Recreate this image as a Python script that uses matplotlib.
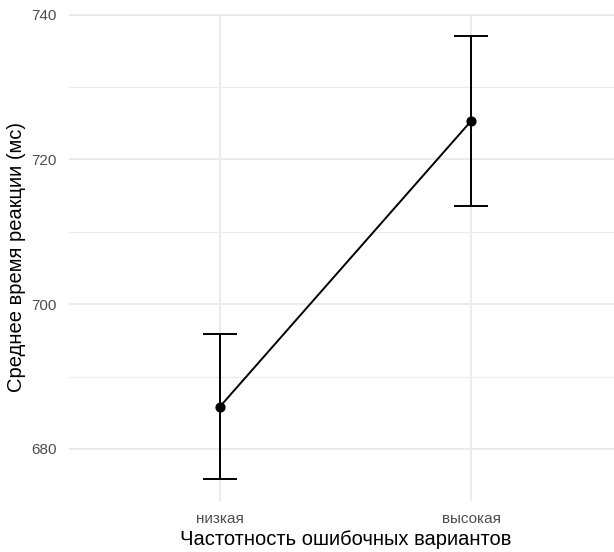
import matplotlib
matplotlib.use("Agg")
import matplotlib.pyplot as plt

plt.rcParams['font.family'] = ['Liberation Sans', 'DejaVu Sans']

# data
groups = ["низкая", "высокая"]
means = [685.85, 725.3]
errors = [10.0, 11.8]
y_ticks = [680, 700, 720, 740]
y_minor = [690, 710, 730]

x = [1, 2]

fig = plt.figure(figsize=(6.14, 5.52), dpi=100)
W, H = 614, 552
# panel: x=1 -> 220px, x=2 -> 471px ; y from 13.5px (top) to 501px (bottom)
left = 69.4 / W
width = 552.2 / W
bottom = (H - 501) / H
height = (501 - 13.5) / H
ax = fig.add_axes([left, bottom, width, height])

ax.set_xlim(0.4, 2.6)
ax.set_ylim(672.8, 740.17)

# grid like theme_minimal
for v in y_minor:
    ax.axhline(v, color="#EBEBEB", lw=0.8, zorder=0)
for v in y_ticks:
    ax.axhline(v, color="#EBEBEB", lw=1.4, zorder=0)
for v in x:
    ax.axvline(v, color="#EBEBEB", lw=1.4, zorder=0)

ax.plot(x, means, color="black", lw=1.4, zorder=3)
ax.errorbar(x, means, yerr=errors, fmt="none", ecolor="black",
            elinewidth=1.4, capsize=12.3, capthick=1.4, zorder=3)
ax.scatter(x, means, s=40, color="black", zorder=4)

ax.set_xticks(x)
ax.set_xticklabels(groups)
ax.set_yticks(y_ticks)
ax.tick_params(axis="both", length=0, labelsize=11, labelcolor="#4D4D4D")
ax.tick_params(axis="x", pad=8)
ax.tick_params(axis="y", pad=9)

for s in ax.spines.values():
    s.set_visible(False)

ax.set_xlabel("Частотность ошибочных вариантов", fontsize=14.5, labelpad=3)
ax.set_ylabel("Среднее время реакции (мс)", fontsize=14.5, labelpad=4)

fig.savefig("out.png", dpi=100)
